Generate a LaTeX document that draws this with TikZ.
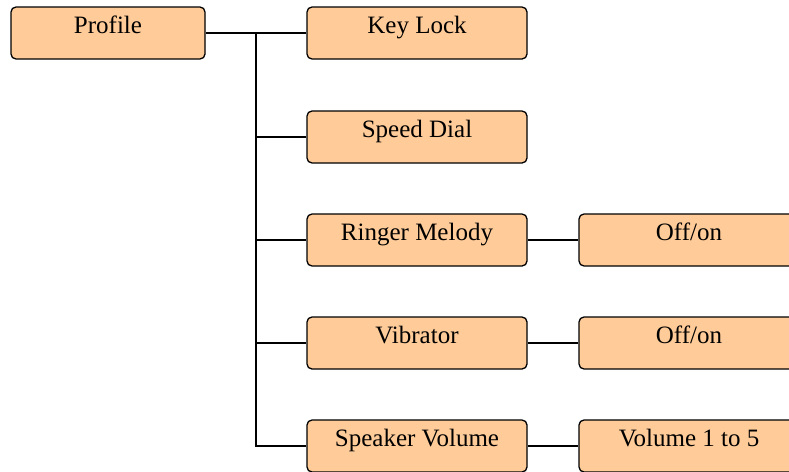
\documentclass[tikz,border=0pt]{standalone}
\usepackage{fontspec}
\setmainfont{Liberation Serif}
\usepackage{tikz}
\usetikzlibrary{positioning}
\definecolor{boxfill}{HTML}{FFCC99}
\tikzset{
    menubox/.style={draw=black,fill=boxfill,line width=1.3pt,rounded corners=5pt,
      inner xsep=0pt,inner ysep=0pt,text height=26pt,text depth=26pt,
      minimum width=220pt,font=\fontsize{25}{30}\selectfont},
    rootbox/.style={menubox,minimum width=194pt},
    link/.style={line width=1.2pt,draw=black},
}
\begin{document}
\begin{tikzpicture}[x=1pt,y=-1pt]
  \useasboundingbox (0,0) rectangle (789,471);
  \node[rootbox] (profile) at (108,33) {Profile};

  \node[menubox] (keylock)  at (417,33)  {Key Lock};
  \node[menubox] (speeddial) at (417,137) {Speed Dial};
  \node[menubox] (ringer)   at (417,240) {Ringer Melody};
  \node[menubox] (vibrator) at (417,343) {Vibrator};
  \node[menubox] (speaker)  at (417,446) {Speaker Volume};

  \node[menubox] (ringeropt)   at (689,240) {Off/on};
  \node[menubox] (vibratoropt) at (689,343) {Off/on};
  \node[menubox] (speakeropt)  at (689,446) {Volume 1 to 5};

  \coordinate (trunk) at (256,33);

  \draw[link] (profile.east) -- (keylock.west);
  \draw[link] (trunk) |- (speaker.west);
  \foreach \N in {speeddial,ringer,vibrator}{
    \draw[link] (trunk |- \N.west) -- (\N.west);
  }
  \draw[link] (ringer.east) -- (ringeropt.west);
  \draw[link] (vibrator.east) -- (vibratoropt.west);
  \draw[link] (speaker.east) -- (speakeropt.west);
\end{tikzpicture}
\end{document}
